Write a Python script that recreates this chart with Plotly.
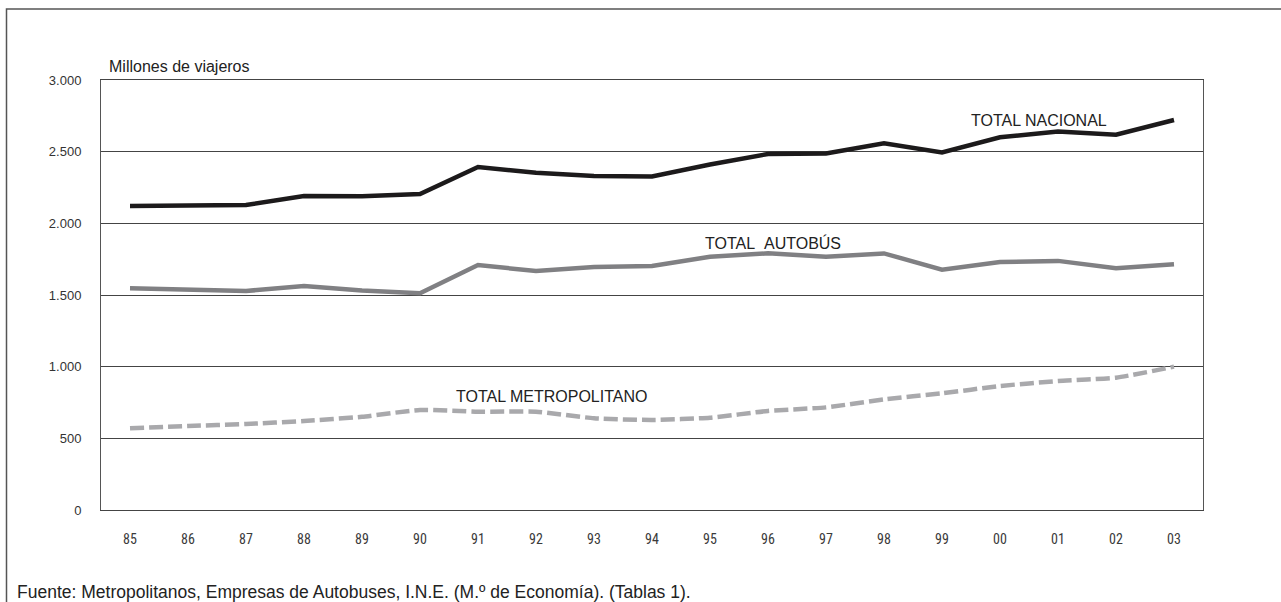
import plotly.graph_objects as go

years = ["85", "86", "87", "88", "89", "90", "91", "92", "93", "94",
         "95", "96", "97", "98", "99", "00", "01", "02", "03"]
total_nacional = [2121, 2127, 2128, 2191, 2189, 2205, 2393, 2353, 2330, 2327,
                  2410, 2484, 2488, 2558, 2495, 2600, 2640, 2618, 2721]
total_autobus = [1547, 1538, 1528, 1563, 1532, 1512, 1709, 1667, 1695, 1702,
                 1767, 1791, 1767, 1790, 1677, 1730, 1738, 1686, 1715]
total_metro = [570, 586, 600, 621, 650, 698, 686, 686, 640, 628,
               644, 691, 716, 772, 814, 865, 900, 923, 1000]
y_ticks = [0, 500, 1000, 1500, 2000, 2500, 3000]
y_labels = ["0", "500", "1.000", "1.500", "2.000", "2.500", "3.000"]

W, H = 1281, 602
L, R, T, B = 101, 1203, 80, 510

def px(x):
    return (x - L) / (R - L)

def py(y):
    return (B - y) / (B - T)

fig = go.Figure()
fig.add_trace(go.Scatter(x=years, y=total_metro, mode="lines",
                         line=dict(color="#a9a9ac", width=4.5, dash="14px,5px",
                                   shape="spline", smoothing=0.5),
                         hoverinfo="skip"))
fig.add_trace(go.Scatter(x=years, y=total_autobus, mode="lines",
                         line=dict(color="#808083", width=4.5),
                         hoverinfo="skip"))
fig.add_trace(go.Scatter(x=years, y=total_nacional, mode="lines",
                         line=dict(color="#1c1a1b", width=4.5),
                         hoverinfo="skip"))

font_main = "Liberation Sans, Arial, sans-serif"
font_narrow = "Liberation Sans Narrow, Roboto Condensed, Liberation Sans, Arial, sans-serif"

annotations = [
    dict(text="Millones de viajeros", x=px(107), y=py(66), xanchor="left", yanchor="middle",
         font=dict(size=16, color="#222", family=font_main)),
    dict(text="TOTAL NACIONAL", x=px(969), y=py(120), xanchor="left", yanchor="middle",
         font=dict(size=16, color="#222", family=font_main)),
    dict(text="TOTAL&nbsp;&nbsp;AUTOBÚS", x=px(703), y=py(243), xanchor="left", yanchor="middle",
         font=dict(size=16, color="#222", family=font_main)),
    dict(text="TOTAL METROPOLITANO", x=px(454), y=py(396), xanchor="left", yanchor="middle",
         font=dict(size=16, color="#222", family=font_main)),
    dict(text="Fuente: Metropolitanos, Empresas de Autobuses, I.N.E. (M.º de Economía). (Tablas 1).",
         x=px(15), y=py(592), xanchor="left", yanchor="middle",
         font=dict(size=17.5, color="#222", family=font_main)),
]
for a in annotations:
    a.update(xref="paper", yref="paper", showarrow=False)

fig.update_layout(
    width=W, height=H,
    margin=dict(l=L, r=W - R, t=T, b=H - B, pad=0),
    paper_bgcolor="white", plot_bgcolor="white",
    showlegend=False,
    annotations=annotations,
    shapes=[dict(type="rect", xref="paper", yref="paper",
                 x0=px(6.5), x1=px(1300), y0=py(640), y1=py(9),
                 line=dict(color="#555", width=1.5), layer="above")],
    xaxis=dict(type="category", range=[-0.5, 18.5], showgrid=False, zeroline=False,
               showline=True, linecolor="#444", linewidth=1, mirror=True,
               ticks="", ticklabelstandoff=16,
               tickfont=dict(size=14, color="#3a3a3a", family=font_narrow)),
    yaxis=dict(range=[0, 3000], tickvals=y_ticks, ticktext=y_labels,
               showgrid=True, gridcolor="#444", gridwidth=1, zeroline=False,
               showline=True, linecolor="#555", linewidth=1, mirror=True,
               ticks="", ticklabelstandoff=16,
               tickfont=dict(size=13, color="#333", family=font_main)),
)

fig.write_html("out.html", config={"displayModeBar": False},
               post_script="document.body.style.margin='0';document.body.style.overflow='hidden';")
